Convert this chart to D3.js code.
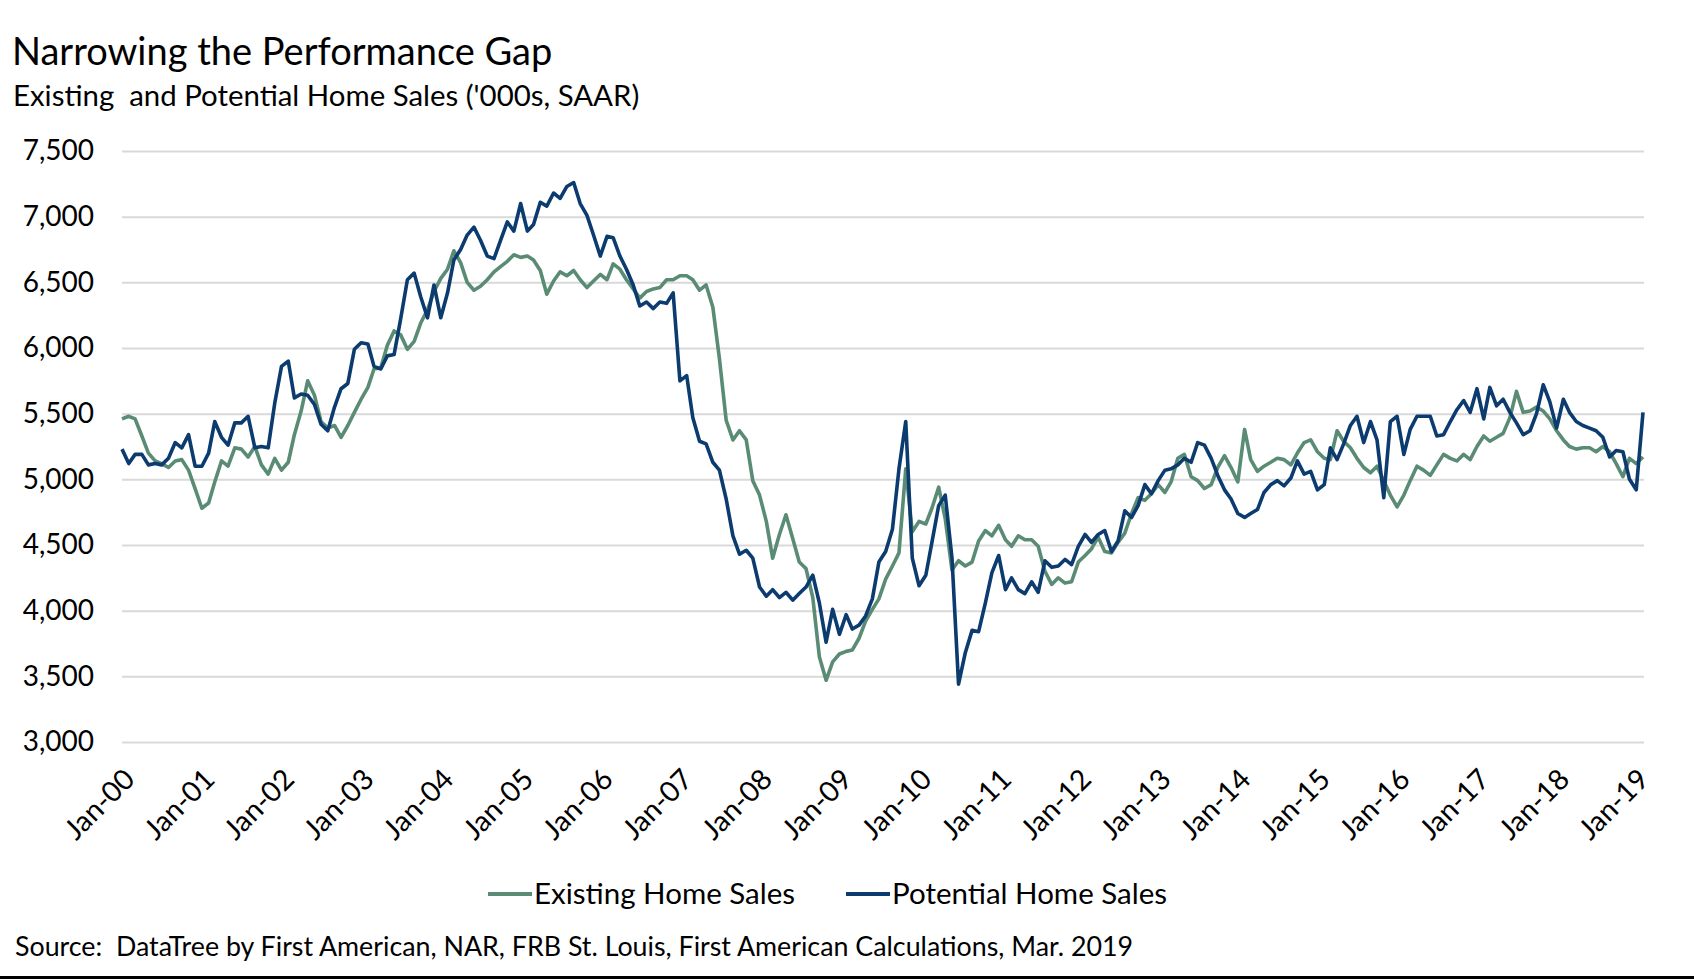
<!DOCTYPE html>
<html>
<head>
<meta charset="utf-8">
<script src="https://cdn.jsdelivr.net/npm/d3@7"></script>
<style>
  html, body { margin: 0; padding: 0; background: #ffffff; }
  svg { display: block; }
  text { font-family: Lato, "Noto Sans", sans-serif; fill: #000; }
</style>
</head>
<body>
<svg id="chart" width="1694" height="979"></svg>
<script>
// ---------- DATA (monthly, Jan-2000 .. Feb-2019, thousands SAAR) ----------
const startYear = 2000;
const startMonth = 0; // January
const existingHomeSales = [
  5460,5480,5460,5330,5200,5140,5120,5090,5140,5150,5070,4930, // 2000
  4780,4820,4980,5140,5100,5240,5230,5170,5250,5110,5040,5160, // 2001
  5070,5130,5340,5520,5750,5640,5440,5390,5410,5320,5410,5510, // 2002
  5610,5700,5840,5850,6020,6130,6100,5990,6050,6190,6290,6430, // 2003
  6530,6600,6740,6650,6500,6440,6470,6520,6580,6620,6660,6710, // 2004
  6690,6700,6670,6590,6410,6510,6580,6550,6590,6520,6460,6510, // 2005
  6560,6520,6640,6600,6520,6450,6380,6430,6450,6460,6520,6520, // 2006
  6550,6550,6520,6440,6480,6310,5920,5450,5300,5370,5300,4990, // 2007
  4880,4680,4400,4580,4730,4550,4370,4320,4100,3650,3470,3610, // 2008
  3670,3690,3700,3790,3920,4010,4090,4240,4340,4440,5080,4600, // 2009
  4680,4660,4780,4940,4700,4310,4380,4340,4370,4530,4610,4570, // 2010
  4650,4540,4490,4570,4540,4540,4490,4300,4200,4250,4210,4220, // 2011
  4370,4420,4470,4560,4450,4440,4520,4590,4740,4860,4840,4890, // 2012
  4960,4900,4980,5160,5190,5020,4990,4930,4960,5090,5180,5090, // 2013
  4980,5380,5150,5060,5100,5130,5160,5150,5110,5200,5280,5300, // 2014
  5210,5160,5150,5370,5290,5240,5160,5090,5050,5100,4990,4880, // 2015
  4790,4880,4990,5100,5070,5030,5110,5190,5160,5140,5190,5150, // 2016
  5250,5330,5290,5320,5350,5470,5670,5510,5520,5550,5520,5460, // 2017
  5370,5300,5250,5230,5240,5240,5210,5250,5210,5120,5020,5160, // 2018
  5120,5170                                                    // 2019
];
const potentialHomeSales = [
  5230,5120,5190,5190,5110,5120,5110,5160,5280,5240,5340,5100, // 2000
  5100,5200,5440,5320,5260,5430,5430,5480,5240,5250,5240,5580, // 2001
  5860,5900,5620,5650,5640,5570,5420,5370,5550,5690,5730,5990, // 2002
  6040,6030,5860,5840,5940,5950,6220,6520,6570,6390,6230,6480, // 2003
  6230,6420,6670,6750,6860,6920,6820,6700,6680,6820,6960,6890, // 2004
  7100,6890,6940,7110,7080,7180,7140,7230,7260,7100,7010,6860, // 2005
  6700,6850,6840,6700,6600,6480,6320,6350,6300,6350,6340,6420, // 2006
  5750,5790,5470,5290,5270,5130,5070,4850,4570,4430,4460,4400, // 2007
  4180,4110,4160,4100,4140,4080,4130,4180,4270,4060,3760,4010, // 2008
  3820,3970,3860,3890,3960,4090,4370,4450,4620,5080,5440,4400, // 2009
  4190,4270,4520,4800,4880,4400,3440,3680,3850,3840,4060,4290, // 2010
  4420,4160,4250,4160,4130,4220,4140,4380,4330,4340,4390,4350, // 2011
  4490,4580,4520,4580,4610,4450,4530,4760,4710,4800,4960,4890, // 2012
  4990,5070,5080,5110,5160,5130,5280,5260,5160,5030,4920,4850, // 2013
  4740,4710,4740,4770,4900,4960,4990,4950,5010,5140,5040,5060, // 2014
  4920,4960,5240,5150,5270,5410,5480,5280,5440,5300,4860,5440, // 2015
  5480,5190,5380,5480,5480,5480,5330,5340,5440,5530,5600,5510, // 2016
  5690,5460,5700,5560,5610,5510,5430,5340,5370,5500,5720,5590, // 2017
  5390,5610,5510,5440,5410,5390,5370,5320,5170,5220,5210,5000, // 2018
  4920,5510                                                    // 2019
];
const yTicks = [3000, 3500, 4000, 4500, 5000, 5500, 6000, 6500, 7000, 7500];
const xTickYears = [2000,2001,2002,2003,2004,2005,2006,2007,2008,2009,2010,2011,2012,2013,2014,2015,2016,2017,2018,2019];
const seriesNames = ["Existing Home Sales", "Potential Home Sales"];
const titleText = "Narrowing the Performance Gap";
const subtitleText = "Existing\u00a0 and Potential Home Sales ('000s, SAAR)";
const sourceText = "Source:\u00a0 DataTree by First American, NAR, FRB St. Louis, First American Calculations, Mar. 2019";

// ---------- LAYOUT ----------
const colors = { existing: "#5a8b74", potential: "#0b3b6f", grid: "#d9d9d9" };
const plot = { left: 122, right: 1643, top: 151, bottom: 742 };

const svg = d3.select("#chart");
svg.append("rect").attr("width", 1694).attr("height", 979).attr("fill", "#fff");

const dates = existingHomeSales.map((_, i) => new Date(Date.UTC(startYear, startMonth + i, 1)));

const x = d3.scaleUtc()
  .domain([dates[0], dates[dates.length - 1]])
  .range([plot.left, plot.right]);
const y = d3.scaleLinear()
  .domain([3000, 7500])
  .range([plot.bottom, plot.top]);

// gridlines + y labels
const yAxis = d3.axisLeft(y)
  .tickValues(yTicks)
  .tickSize(-(plot.right - plot.left + 1))
  .tickPadding(28)
  .tickFormat(d3.format(","));
const gy = svg.append("g")
  .attr("transform", `translate(${plot.left},0)`)
  .call(yAxis);
gy.select(".domain").remove();
gy.selectAll(".tick line").attr("stroke", colors.grid).attr("stroke-width", 2);
gy.selectAll(".tick text")
  .attr("fill", "#000")
  .style("font-family", "Lato, sans-serif")
  .style("font-size", "28px");

// x axis labels
const xAxis = d3.axisBottom(x)
  .tickValues(xTickYears.map(yr => new Date(Date.UTC(yr, 0, 1))))
  .tickSize(0)
  .tickFormat(d3.utcFormat("%b-%y"));
const gx = svg.append("g")
  .attr("transform", `translate(0,${plot.bottom})`)
  .call(xAxis);
gx.select(".domain").remove();
gx.selectAll(".tick text")
  .attr("fill", "#000")
  .style("font-family", "Lato, sans-serif")
  .style("font-size", "28.5px")
  .attr("text-anchor", "end")
  .attr("dy", null)
  .attr("y", null)
  .attr("transform", "translate(14,39) rotate(-45)");

// lines
const line = d3.line()
  .x((d, i) => x(dates[i]))
  .y(d => y(d));

svg.append("path")
  .datum(existingHomeSales)
  .attr("fill", "none")
  .attr("stroke", colors.existing)
  .attr("stroke-width", 3.6)
  .attr("stroke-linejoin", "round")
  .attr("d", line);

svg.append("path")
  .datum(potentialHomeSales)
  .attr("fill", "none")
  .attr("stroke", colors.potential)
  .attr("stroke-width", 3.6)
  .attr("stroke-linejoin", "round")
  .attr("d", line);

// title and subtitle
svg.append("text")
  .attr("x", 12).attr("y", 65)
  .style("font-size", "38px")
  .text(titleText);
svg.append("text")
  .attr("x", 13).attr("y", 106)
  .style("font-size", "29.4px")
  .text(subtitleText);

// legend
const legendItems = [
  { name: seriesNames[0], color: colors.existing, x0: 488 },
  { name: seriesNames[1], color: colors.potential, x0: 846 }
];
const lg = svg.append("g");
legendItems.forEach(it => {
  lg.append("line")
    .attr("x1", it.x0).attr("x2", it.x0 + 44)
    .attr("y1", 894).attr("y2", 894)
    .attr("stroke", it.color).attr("stroke-width", 4);
  lg.append("text")
    .attr("x", it.x0 + 46).attr("y", 904)
    .style("font-size", "29.5px")
    .text(it.name);
});

// source
svg.append("text")
  .attr("x", 15).attr("y", 956)
  .style("font-size", "26.8px")
  .text(sourceText);

// bottom border
svg.append("rect").attr("x", 0).attr("y", 976).attr("width", 1694).attr("height", 3).attr("fill", "#000");
</script>
</body>
</html>
